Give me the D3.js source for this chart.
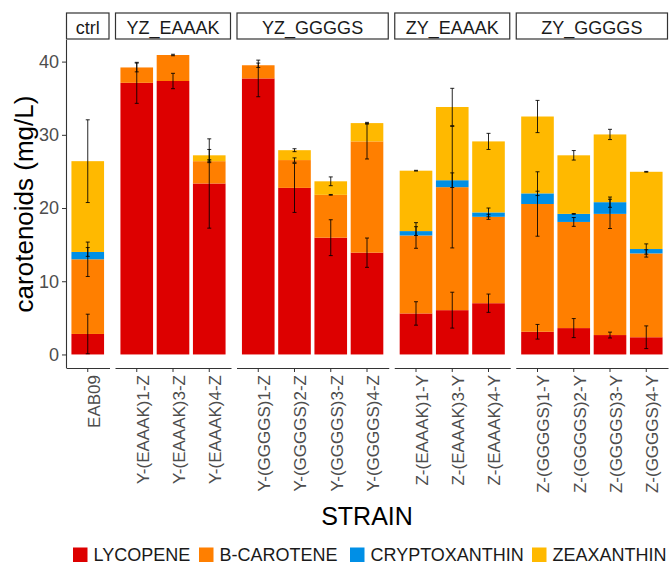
<!DOCTYPE html>
<html>
<head>
<meta charset="utf-8">
<script src="https://cdn.jsdelivr.net/npm/d3@7"></script>
<style>
  html, body { margin: 0; padding: 0; background: #fff; }
  svg { display: block; font-family: "Liberation Sans", Arial, Helvetica, sans-serif; }
</style>
</head>
<body>
<svg id="chart" width="670" height="564"></svg>
<script>
// Facet groups and the strains in each
const groups = ["ctrl", "YZ_EAAAK", "YZ_GGGGS", "ZY_EAAAK", "ZY_GGGGS"];
const strains = [
  "EAB09",
  "Y-(EAAAK)1-Z", "Y-(EAAAK)3-Z", "Y-(EAAAK)4-Z",
  "Y-(GGGGS)1-Z", "Y-(GGGGS)2-Z", "Y-(GGGGS)3-Z", "Y-(GGGGS)4-Z",
  "Z-(EAAAK)1-Y", "Z-(EAAAK)3-Y", "Z-(EAAAK)4-Y",
  "Z-(GGGGS)1-Y", "Z-(GGGGS)2-Y", "Z-(GGGGS)3-Y", "Z-(GGGGS)4-Y"
];
const strainGroup = [
  "ctrl",
  "YZ_EAAAK", "YZ_EAAAK", "YZ_EAAAK",
  "YZ_GGGGS", "YZ_GGGGS", "YZ_GGGGS", "YZ_GGGGS",
  "ZY_EAAAK", "ZY_EAAAK", "ZY_EAAAK",
  "ZY_GGGGS", "ZY_GGGGS", "ZY_GGGGS", "ZY_GGGGS"
];

// Carotenoid amounts (mg/L) per strain, stacked in this order
const pigments = ["LYCOPENE", "B-CAROTENE", "CRYPTOXANTHIN", "ZEAXANTHIN"];
const pigmentColors = ["#dd0000", "#ff7f00", "#008fe6", "#ffb900"];

const lycopene      = [2.8, 37.1, 37.35, 23.35, 37.7, 22.75, 15.95, 13.9, 5.6, 6.05, 7.0, 3.1, 3.6, 2.65, 2.35];
const bCarotene     = [10.2, 2.1, 3.55, 3.05, 1.8, 3.8, 5.85, 15.2, 10.65, 16.8, 11.8, 17.45, 14.5, 16.55, 11.45];
const cryptoxanthin = [1.0, 0, 0, 0, 0, 0, 0, 0, 0.6, 0.95, 0.6, 1.45, 1.1, 1.6, 0.6];
const zeaxanthin    = [12.4, 0, 0, 0.8, 0, 1.35, 1.85, 2.5, 8.25, 10.0, 9.7, 10.5, 8.0, 9.25, 10.55];

// Standard deviations for each pigment
const lycopeneSd      = [2.7, 2.8, 1.05, 6.1, 2.5, 3.35, 2.45, 2.0, 1.6, 2.45, 1.25, 1.0, 1.3, 0.4, 1.55];
const bCaroteneSd     = [2.35, 0.6, 0.1, 0.2, 0.3, 0.3, 0.05, 2.4, 1.75, 8.3, 0.35, 4.4, 0.6, 2.0, 0.5];
const cryptoxanthinSd = [0.6, 0, 0, 0, 0, 0, 0, 0, 0.6, 1.0, 0.6, 0.3, 0.05, 0.7, 0.7];
const zeaxanthinSd    = [5.65, 0, 0, 0.8, 0, 0.2, 0.6, 0.1, 0.05, 2.55, 1.1, 2.2, 0.65, 0.7, 0.05];

const yTicks = [0, 10, 20, 30, 40];

// ---- build stacked records ----
const valueSets = [lycopene, bCarotene, cryptoxanthin, zeaxanthin];
const sdSets = [lycopeneSd, bCaroteneSd, cryptoxanthinSd, zeaxanthinSd];
const rows = strains.map((s, i) => {
  const r = { strain: s, group: strainGroup[i] };
  pigments.forEach((p, k) => { r[p] = valueSets[k][i]; });
  return r;
});
const series = d3.stack().keys(pigments)(rows);

// ---- layout ----
const svg = d3.select("#chart");
const plotLeft = 66, plotRight = 668, panelGap = 5.5;
const plotTop = 40, plotBottom = 368;
const stripTop = 13, stripBottom = 39;

const groupCounts = groups.map(g => strainGroup.filter(x => x === g).length);
const totalUnits = d3.sum(groupCounts, n => n + 0.2);
const unit = (plotRight - plotLeft - panelGap * (groups.length - 1)) / totalUnits;

const panels = [];
let xCursor = plotLeft;
groups.forEach((g, gi) => {
  const w = (groupCounts[gi] + 0.2) * unit;
  const members = strains.filter((s, i) => strainGroup[i] === g);
  const xs = d3.scaleBand().domain(members).range([xCursor, xCursor + w])
    .paddingInner(0.1).paddingOuter(0.15);
  panels.push({ group: g, x0: xCursor, x1: xCursor + w, scale: xs });
  xCursor += w + panelGap;
});
const xOf = {};
panels.forEach(p => p.scale.domain().forEach(s => { xOf[s] = p.scale; }));

const y = d3.scaleLinear().domain([-1.85, 42.95]).range([plotBottom, plotTop]);

// ---- bars ----
const barG = svg.append("g");
series.forEach((ser, k) => {
  barG.append("g").attr("fill", pigmentColors[k])
    .selectAll("rect")
    .data(ser.filter(d => d[1] - d[0] > 0))
    .join("rect")
    .attr("x", d => xOf[d.data.strain](d.data.strain))
    .attr("width", d => xOf[d.data.strain].bandwidth())
    .attr("y", d => y(d[1]))
    .attr("height", d => y(d[0]) - y(d[1]));
});

// ---- error bars, centred on each segment's cumulative top ----
const errG = svg.append("g").attr("stroke", "#000").attr("stroke-width", 1).attr("stroke-opacity", 0.85);
series.forEach((ser, k) => {
  ser.forEach((d, i) => {
    if (d[1] - d[0] <= 0) return;
    const sd = sdSets[k][i];
    const sc = xOf[d.data.strain];
    const cx = sc(d.data.strain) + sc.bandwidth() / 2;
    const hi = y(d[1] + sd), lo = y(d[1] - sd);
    errG.append("line").attr("x1", cx).attr("x2", cx).attr("y1", hi).attr("y2", lo);
    errG.append("line").attr("x1", cx - 2).attr("x2", cx + 2).attr("y1", hi).attr("y2", hi);
    errG.append("line").attr("x1", cx - 2).attr("x2", cx + 2).attr("y1", lo).attr("y2", lo);
  });
});

// ---- strips ----
panels.forEach(p => {
  svg.append("rect")
    .attr("x", p.x0 + 0.5).attr("y", stripTop)
    .attr("width", p.x1 - p.x0 - 1).attr("height", stripBottom - stripTop)
    .attr("fill", "#fff").attr("stroke", "#333").attr("stroke-width", 1.2);
  svg.append("text")
    .attr("x", (p.x0 + p.x1) / 2).attr("y", 33.5)
    .attr("text-anchor", "middle").style("font-size", "18px").attr("fill", "#1a1a1a")
    .text(p.group);
});

// ---- x axes per panel ----
panels.forEach(p => {
  const ax = svg.append("g").attr("transform", `translate(0,${plotBottom})`)
    .call(d3.axisBottom(p.scale).tickSize(4).tickSizeOuter(0));
  ax.attr("font-size", null).attr("font-family", null);
  ax.select(".domain").attr("stroke", "#333").attr("stroke-width", 1.1);
  ax.selectAll(".tick line").attr("stroke", "#333");
  ax.selectAll(".tick text")
    .attr("transform", "rotate(-90)")
    .attr("x", -7).attr("y", 0).attr("dy", "0.7em")
    .attr("text-anchor", "end")
    .style("font-size", "17px").attr("fill", "#4d4d4d");
});

// ---- y axis ----
const yAx = svg.append("g").attr("transform", `translate(${plotLeft},0)`)
  .call(d3.axisLeft(y).tickValues(yTicks).tickSize(4).tickSizeOuter(0));
yAx.attr("font-size", null).attr("font-family", null);
yAx.select(".domain").attr("stroke", "#333").attr("stroke-width", 1.1)
  .attr("d", `M0.5,${plotTop}V${plotBottom}`);
yAx.selectAll(".tick line").attr("stroke", "#333");
yAx.selectAll(".tick text").style("font-size", "18px").attr("fill", "#4d4d4d")
  .attr("x", -7);

// ---- axis titles ----
svg.append("text")
  .attr("transform", `translate(33,${(plotTop + plotBottom) / 2}) rotate(-90)`)
  .attr("text-anchor", "middle").style("font-size", "26px").attr("fill", "#000")
  .text("carotenoids (mg/L)");
svg.append("text")
  .attr("x", (plotLeft + plotRight) / 2).attr("y", 525)
  .attr("text-anchor", "middle").style("font-size", "25px").attr("fill", "#000")
  .text("STRAIN");

// ---- legend ----
const legendX = [73, 199, 350, 532];
const leg = svg.append("g");
pigments.forEach((p, k) => {
  leg.append("rect").attr("x", legendX[k]).attr("y", 547.5).attr("width", 14.5).attr("height", 14.5)
    .attr("fill", pigmentColors[k]);
  leg.append("text").attr("x", legendX[k] + 20.5).attr("y", 561)
    .style("font-size", "18px").attr("fill", "#1a1a1a").text(p);
});
</script>
</body>
</html>
